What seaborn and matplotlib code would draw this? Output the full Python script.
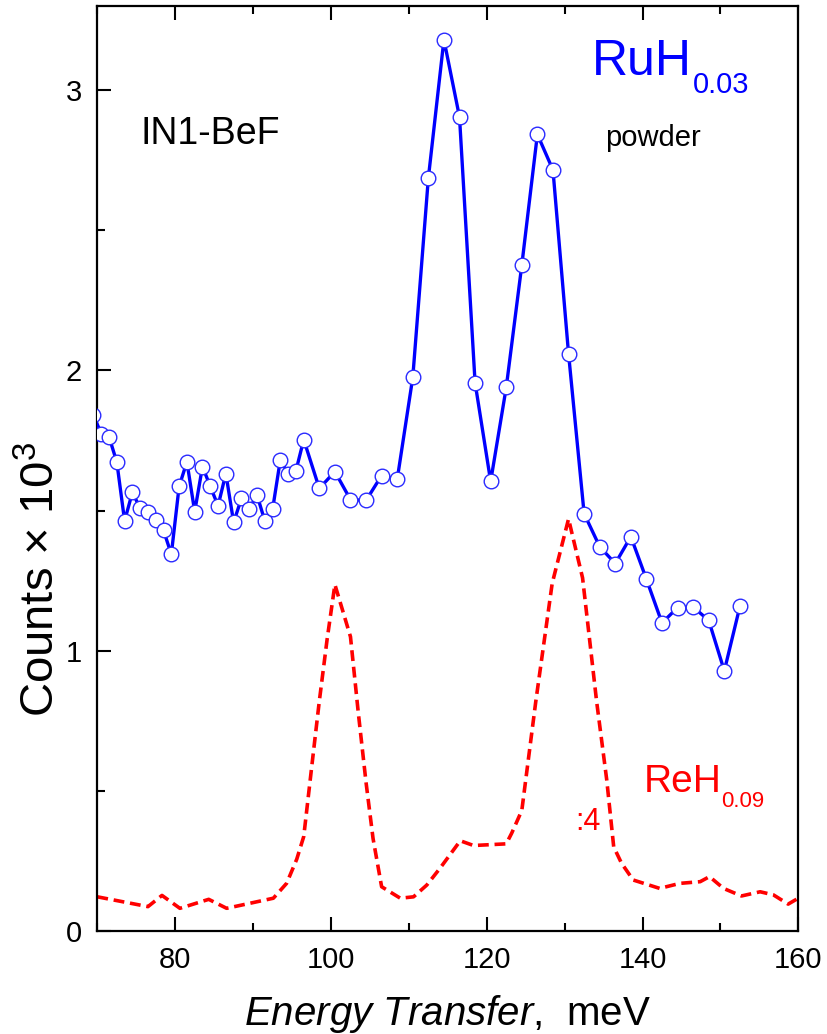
import matplotlib
matplotlib.use("Agg")
import matplotlib.pyplot as plt
import seaborn as sns
import numpy as np
import pandas as pd
from matplotlib.ticker import MultipleLocator

# ---- data ----
blue_x = [69.5] + [70.5 + i for i in range(27)] + [98.5 + 2 * i for i in range(28)]
blue_y = [1.84, 1.774, 1.763, 1.673, 1.463, 1.565, 1.508, 1.496, 1.468, 1.429,
          1.344, 1.586, 1.674, 1.496, 1.657, 1.586, 1.517, 1.632, 1.458, 1.543,
          1.505, 1.556, 1.463, 1.504, 1.682, 1.630, 1.642, 1.753,
          1.579, 1.639, 1.539, 1.536, 1.625, 1.611, 1.975, 2.686, 3.180, 2.904,
          1.956, 1.604, 1.939, 2.376, 2.842, 2.715, 2.060, 1.489, 1.371, 1.311,
          1.407, 1.255, 1.099, 1.154, 1.156, 1.108, 0.928, 1.158]

red_x = [70.0, 76.5, 78.3, 80.6, 84.3, 86.6, 92.6, 94.3, 95.6, 96.5, 97.5, 98.5,
         99.5, 100.5, 102.5, 103.5, 104.5, 105.4, 106.5, 108.9, 110.6, 112.3,
         114.0, 116.6, 118.3, 122.5, 123.2, 124.5, 126.3, 128.4, 130.5, 132.3,
         134.1, 135.4, 136.3, 137.3, 138.8, 142.2, 144.8, 147.4, 148.6, 150.4,
         152.7, 155.1, 156.8, 158.7, 160.0]
red_y = [0.122, 0.087, 0.127, 0.081, 0.113, 0.081, 0.117, 0.170, 0.256, 0.337,
         0.58, 0.82, 1.04, 1.236, 1.05, 0.78, 0.53, 0.33, 0.158, 0.117, 0.122,
         0.164, 0.224, 0.322, 0.305, 0.311, 0.349, 0.43, 0.82, 1.24, 1.47, 1.26,
         0.82, 0.54, 0.30, 0.242, 0.182, 0.152, 0.170, 0.176, 0.194, 0.152,
         0.125, 0.140, 0.129, 0.096, 0.117]

x_ticks = [80, 100, 120, 140, 160]
y_ticks = [0, 1, 2, 3]

blue_df = pd.DataFrame({"E": blue_x, "C": blue_y})
red_df = pd.DataFrame({"E": red_x, "C": red_y})

sns.set_style("ticks")
plt.rcParams["font.family"] = ["Liberation Sans", "DejaVu Sans"]
plt.rcParams["mathtext.fontset"] = "custom"
plt.rcParams["mathtext.rm"] = "Liberation Sans"
plt.rcParams["mathtext.it"] = "Liberation Sans:italic"
plt.rcParams["text.color"] = "black"
plt.rcParams["axes.labelcolor"] = "black"

fig = plt.figure(figsize=(8.27, 10.34), dpi=100)
ax = fig.add_axes([0.1177, 0.0996, 0.8476, 0.8946])

sns.lineplot(data=red_df, x="E", y="C", ax=ax, color="#ff0000", lw=2.6,
             linestyle=(0, (3.0, 1.6)), sort=False, zorder=2)
sns.lineplot(data=blue_df, x="E", y="C", ax=ax, color="#0000ff", lw=2.4,
             marker="o", markersize=10.5, markerfacecolor="white",
             markeredgecolor="#2a2aff", markeredgewidth=1.0, sort=False, zorder=3)

ax.set_xlim(70, 160)
ax.set_ylim(0, 3.30)
ax.set_xticks(x_ticks)
ax.set_yticks(y_ticks)
ax.xaxis.set_minor_locator(MultipleLocator(10))
ax.yaxis.set_minor_locator(MultipleLocator(0.5))
ax.tick_params(which="both", direction="in", top=True, right=False,
               width=1.5, labelsize=21, colors="black")
ax.tick_params(which="major", length=10, pad=11)
ax.tick_params(which="minor", length=6)
for s in ax.spines.values():
    s.set_linewidth(1.6)
    s.set_color("black")

ax.set_xlabel(r"$\mathit{Energy\ Transfer}$,  meV", fontsize=29, color="black")
ax.set_ylabel(r"Counts $\times$ 10$^3$", fontsize=34, color="black")
ax.xaxis.set_label_coords(0.5, -0.067)
ax.yaxis.set_label_coords(-0.047, 0.38)

ax.text(75.5, 2.807, "IN1-BeF", fontsize=27, color="black")
ax.text(133.5, 3.054, "RuH", fontsize=36, color="#0000ff")
ax.text(146.5, 2.99, "0.03", fontsize=21, color="#0000ff")
ax.text(135.2, 2.80, "powder", fontsize=21, color="black")
ax.text(140.1, 0.496, "ReH", fontsize=28, color="#ff0000")
ax.text(150.05, 0.443, "0.09", fontsize=16, color="#ff0000")
ax.text(131.3, 0.361, ":4", fontsize=22, color="#ff0000")

fig.savefig("out.png", dpi=100)
